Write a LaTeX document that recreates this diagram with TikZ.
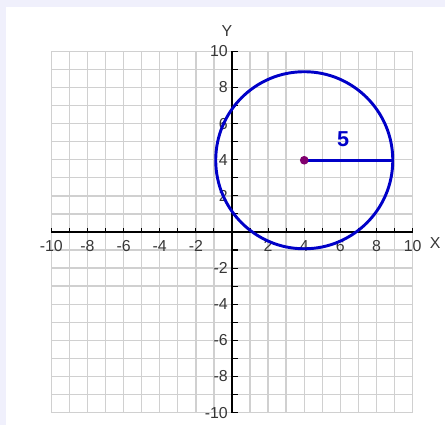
\documentclass[tikz,border=0pt]{standalone}
\usepackage{fontspec}
\setmainfont{Liberation Sans}
\usetikzlibrary{positioning}
\definecolor{pagebg}{RGB}{240,240,252}
\definecolor{gridgray}{RGB}{208,208,208}
\definecolor{circblue}{RGB}{0,0,200}
\definecolor{dotpurple}{RGB}{128,0,110}
\definecolor{labelgray}{RGB}{55,55,55}

\begin{document}
\begin{tikzpicture}[x=0.5cm, y=0.5cm, every node/.style={font=\fontsize{12.5}{14}\selectfont, text=labelgray, inner sep=1pt}]
    % Define styles with \tikzset
    \tikzset{
        gridline/.style={draw=gridgray, line width=1.1pt},
        axisline/.style={draw=black, line width=1.1pt},
        tickmark/.style={draw=black, line width=0.9pt},
        curve/.style={draw=circblue, line width=2.3pt},
        xlabel/.style={anchor=north},
        ylabel/.style={anchor=east}
    }

    % --- BACKGROUND ---
    \useasboundingbox (-12.84,-10.68) rectangle (11.79,12.84);
    \fill[pagebg] (-12.84,-10.68) rectangle (11.79,12.84);
    \fill[white] (-12.51,-10.68) rectangle (11.79,12.45);

    % --- GRID ---
    \foreach \i in {-10,...,10} {
        \draw[gridline] (\i,-10) -- (\i,10);
        \draw[gridline] (-10,\i) -- (10,\i);
    }

    % --- AXES ---
    \draw[axisline] (-10,0) -- (10,0);
    \draw[axisline] (0,-10) -- (0,10);
    \foreach \i in {-10,...,10} {
        \draw[tickmark] (\i,0) -- (\i,0.24);
        \draw[tickmark] (0,\i) -- (0.34,\i);
    }

    % tick labels
    \foreach \i in {-10,-8,-6,-4,-2,2,4,6,8,10} {
        \node (xl\i) [xlabel] at (\i,-0.38) {\i};
        \node (yl\i) [ylabel] at (-0.15,\i) {\i};
    }
    \node (X) at (11.25,-0.62) {X};
    \node (Y) at (-0.28,11.1) {Y};

    % --- CIRCLE ---
    \coordinate (C) at (4,3.97);
    \draw[curve] (C) circle (4.9);
    \coordinate (R) at (8.95,3.97);
    \draw[curve] (C) -- (R);
    \fill[dotpurple] (C) circle (0.24);
    \node (r5) [text=circblue, font=\fontsize{17}{19}\selectfont\bfseries] at (6.15,5.15) {5};

\end{tikzpicture}
\end{document}
